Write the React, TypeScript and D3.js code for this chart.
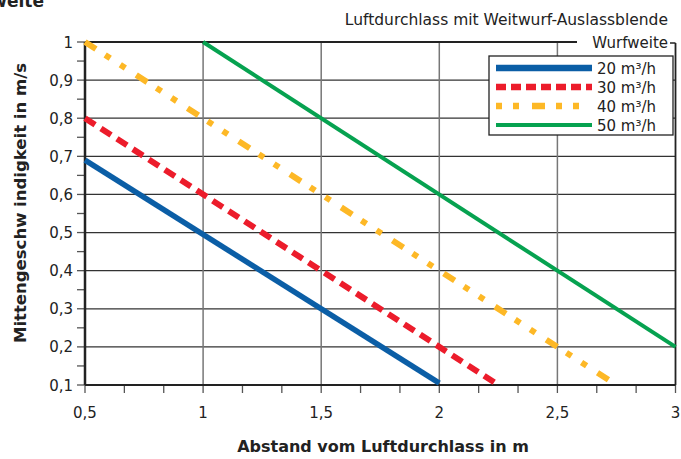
import * as d3 from "d3";

type Pt = { x: number; y: number };

// series: Abstand (m) -> Mittengeschwindigkeit (m/s)
const series20: Pt[] = [{ x: 0.5, y: 0.69 }, { x: 2.0, y: 0.105 }];
const series30: Pt[] = [{ x: 0.5, y: 0.8 }, { x: 2.25, y: 0.1 }];
const series40: Pt[] = [{ x: 0.5, y: 1.0 }, { x: 2.75, y: 0.1 }];
const series50: Pt[] = [{ x: 1.0, y: 1.0 }, { x: 3.0, y: 0.2 }];

const seriesNames = ["20 m³/h", "30 m³/h", "40 m³/h", "50 m³/h"];
const xTicks = [0.5, 1, 1.5, 2, 2.5, 3];
const xTickLabels = ["0,5", "1", "1,5", "2", "2,5", "3"];
const yTicks = [0.1, 0.2, 0.3, 0.4, 0.5, 0.6, 0.7, 0.8, 0.9, 1];
const yTickLabels = ["0,1", "0,2", "0,3", "0,4", "0,5", "0,6", "0,7", "0,8", "0,9", "1"];

const width = 681;
const height = 459;
const font = "'DejaVu Sans', 'Open Sans', sans-serif";

export default function App() {
  const margin = { top: 42, right: 5, bottom: 74, left: 85 };
  const x = d3.scaleLinear().domain([0.5, 3]).range([margin.left, width - margin.right - 0.5]);
  const y = d3.scaleLinear().domain([0.1, 1]).range([height - margin.bottom, margin.top]);
  const line = d3.line<Pt>().x((d) => x(d.x)).y((d) => y(d.y));

  const styles = [
    { data: series20, color: "#0b5ea6", w: 5.5, dash: "" },
    { data: series30, color: "#ec1c2b", w: 6, dash: "12 7" },
    { data: series40, color: "#fdb826", w: 6, dash: "13 11 6 12 6 13" },
    { data: series50, color: "#06a250", w: 4, dash: "" },
  ];

  const minorX = d3.range(0, 16).map((i) => 0.5 + i / 6);
  const minorY = d3.range(0, 19).map((i) => 0.1 + i * 0.05);
  const x0 = x(0.5), x1 = x(3), y0 = y(0.1), y1 = y(1);

  const lx = 489, ly = 56, lw = 184, lh = 79;

  return (
    <svg width={width} height={height} style={{ position: "absolute", left: 0, top: 0 }} fontFamily={font}>
      <rect width={width} height={height} fill="#fff" />
      <text x={44} y={7} textAnchor="end" fontSize={17} fontWeight="bold" fill="#222">Wurfweite</text>
      <text x={668} y={25} textAnchor="end" fontSize={15.5} fill="#222">Luftdurchlass mit Weitwurf-Auslassblende</text>
      <text x={668} y={48} textAnchor="end" fontSize={15} fill="#222">Wurfweite</text>

      {/* grid */}
      {yTicks.slice(1, -1).map((t) => (
        <line key={"gy" + t} x1={x0} x2={x1} y1={y(t)} y2={y(t)} stroke="#333" strokeWidth={1.2} />
      ))}
      {xTicks.slice(1, -1).map((t) => (
        <line key={"gx" + t} x1={x(t)} x2={x(t)} y1={y1} y2={y0} stroke="#777" strokeWidth={1.5} />
      ))}

      {/* ticks */}
      {minorY.map((t, i) => (
        <line key={"ty" + i} x1={x0 - 8} x2={x0} y1={y(t)} y2={y(t)} stroke="#555" strokeWidth={1.3} />
      ))}
      {minorX.map((t, i) => (
        <line key={"tx" + i} x1={x(t)} x2={x(t)} y1={y0} y2={y0 + 8} stroke="#555" strokeWidth={1.3} />
      ))}

      {/* frame */}
      <line x1={x0} x2={577} y1={y1} y2={y1} stroke="#222" strokeWidth={2.2} />
      <line x1={670} x2={x1} y1={y1 + 1} y2={y1 + 1} stroke="#222" strokeWidth={1.5} />
      <line x1={x1} x2={x1} y1={y1 + 1} y2={y0} stroke="#222" strokeWidth={1.8} />
      <line x1={x0} x2={x0} y1={y1} y2={y0} stroke="#222" strokeWidth={2.5} />
      <line x1={x0} x2={x1} y1={y0} y2={y0} stroke="#222" strokeWidth={2.2} />

      {/* series */}
      {styles.map((s, i) => (
        <path key={"s" + i} d={line(s.data) ?? ""} fill="none" stroke={s.color} strokeWidth={s.w} strokeDasharray={s.dash || undefined} />
      ))}

      {/* tick labels */}
      {yTicks.map((t, i) => (
        <text key={"ly" + t} x={73} y={y(t) + 5.5} textAnchor="end" fontSize={15} fill="#222">{yTickLabels[i]}</text>
      ))}
      {xTicks.map((t, i) => (
        <text key={"lx" + t} x={x(t)} y={418} textAnchor="middle" fontSize={15} fill="#222">{xTickLabels[i]}</text>
      ))}

      {/* legend */}
      <rect x={lx} y={ly} width={lw} height={lh} fill="#fff" stroke="#222" strokeWidth={1.3} />
      {styles.map((s, i) => (
        <g key={"lg" + i}>
          <line x1={lx + 7} x2={lx + 103} y1={ly + 12 + i * 19} y2={ly + 12 + i * 19} stroke={s.color} strokeWidth={s.w === 4 ? 4 : 6.5} strokeDasharray={s.dash ? (i === 1 ? "10 5" : "6 11 6 13 13 11") : undefined} />
          <text x={lx + 108} y={ly + 17.5 + i * 19} fontSize={15} fill="#222">{seriesNames[i]}</text>
        </g>
      ))}

      {/* axis titles */}
      <text x={383} y={452} textAnchor="middle" fontSize={16} fontWeight="bold" fill="#222">Abstand vom Luftdurchlass  in m</text>
      <text transform={`translate(26,203) rotate(-90)`} textAnchor="middle" fontSize={16.5} fontWeight="bold" fill="#222">Mittengeschw indigkeit in m/s</text>
    </svg>
  );
}
